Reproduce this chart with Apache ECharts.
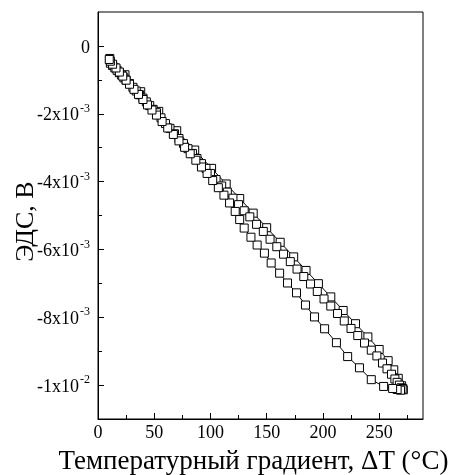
<!DOCTYPE html>
<html><head><meta charset="utf-8">
<script src="https://cdn.jsdelivr.net/npm/echarts@6/dist/echarts.min.js"></script>
<style>html,body{margin:0;padding:0;background:#fff}#c{width:465px;height:475px}</style>
</head><body><div id="c"></div>
<script>
const xTickLabels = [0, 50, 100, 150, 200, 250];
const xMinorTicks = [25, 75, 125, 175, 225, 275];
const yTickLabels = [0, -0.002, -0.004, -0.006, -0.008, -0.01];
const yMinorTicks = [-0.001, -0.003, -0.005, -0.007, -0.009];

const heatingUpper = [[10.5,-0.00037],[24,-0.00085],[38,-0.00135],[54,-0.00193],[70,-0.00250],[86,-0.00307],[101,-0.00361],[114,-0.00407],[126,-0.00450],[138,-0.00493],[150,-0.00536],[162,-0.00579],[174,-0.00622],[185,-0.00662],[196,-0.00701],[207,-0.00740],[218,-0.00780],[229,-0.00819],[240,-0.00858],[250,-0.00895],[258,-0.00928],[263,-0.00955],[267,-0.00980],[270,-0.01002]];

const heatingBand = [[11,-0.00051],[13,-0.00058],[15,-0.00065],[17,-0.00072],[19,-0.00079],[21,-0.00086],[23,-0.00094],[25,-0.00101],[28,-0.00111],[31,-0.00122],[34,-0.00133],[37,-0.00144],[40,-0.00154],[43,-0.00165],[46,-0.00176],[49,-0.00187],[52,-0.00197],[56,-0.00212],[60,-0.00229],[64,-0.00243],[68,-0.00259],[72,-0.00273],[76,-0.00288],[80,-0.00303],[84,-0.00317],[88,-0.00332],[92,-0.00347],[96,-0.00361],[100,-0.00376],[105,-0.00394],[110,-0.00413],[115,-0.00431],[120,-0.00449],[125,-0.00468],[130,-0.00486],[135,-0.00504],[141,-0.00526],[147,-0.00547],[153,-0.00570],[159,-0.00592],[165,-0.00614],[171,-0.00636],[177,-0.00658],[183,-0.00680],[189,-0.00702],[195,-0.00724],[201,-0.00746],[207,-0.00767],[213,-0.00789],[219,-0.00811],[225,-0.00833],[231,-0.00854],[237,-0.00876],[243,-0.00897],[248,-0.00914],[253,-0.00935],[257,-0.00952],[261,-0.00968],[264,-0.00982],[266,-0.00992],[268,-0.01000],[269.5,-0.01008]];

const cooling = [[271,-0.01010],[271.5,-0.01014],[270.5,-0.01012],[269,-0.01015],[266,-0.01013],[262,-0.01010],[254,-0.01004],[243,-0.00984],[232.5,-0.00949],[222,-0.00916],[212,-0.00875],[201.5,-0.00834],[192.5,-0.00799],[184.5,-0.00764],[176.5,-0.00728],[168.5,-0.00699],[161.5,-0.00670],[154,-0.00640],[148,-0.00611],[141.5,-0.00587],[136,-0.00564],[130,-0.00537],[126,-0.00512],[122,-0.00488],[117,-0.00463],[112,-0.00440],[107,-0.00418],[102,-0.00397],[97,-0.00376],[92,-0.00357],[87,-0.00337],[82,-0.00318],[77,-0.00299],[72,-0.00280],[67,-0.00261],[62,-0.00242],[57,-0.00223],[52,-0.00204],[48,-0.00189],[44,-0.00174],[40,-0.00158],[36,-0.00143],[32,-0.00128],[28,-0.00113],[25,-0.00101],[22,-0.00089],[19,-0.00077],[16,-0.00065],[13,-0.00054],[11,-0.00045],[10,-0.00040]];

const FONT = 'Liberation Serif';
function fmtY(v) {
  if (Math.abs(v) < 1e-12) return '{a|0}';
  const e = Math.floor(Math.log10(Math.abs(v)) + 1e-9);
  const m = Math.round(v / Math.pow(10, e));
  return '{a|' + m + 'x10}{s|' + e + '}';
}
function mkSeries(data) {
  return {
    type: 'line', data: data, xAxisIndex: 0, yAxisIndex: 0,
    symbol: 'rect', symbolSize: 8, showSymbol: true, showAllSymbol: true,
    lineStyle: { color: '#000', width: 1 },
    itemStyle: { color: '#fff', borderColor: '#000', borderWidth: 1 },
    silent: true, animation: false
  };
}
const chart = echarts.init(document.getElementById('c'), null, { renderer: 'canvas' });
chart.setOption({
  backgroundColor: '#fff',
  animation: false,
  grid: { left: 98, right: 42, top: 12, bottom: 56, show: true, borderColor: '#000', borderWidth: 1, containLabel: false, outerBoundsMode: 'none' },
  xAxis: [{
    type: 'value', min: 0, max: 289, position: 'bottom',
    axisLine: { onZero: false, lineStyle: { color: '#000', width: 1 } },
    axisTick: { inside: true, length: 6, customValues: xTickLabels, lineStyle: { color: '#000' } },
    axisLabel: { customValues: xTickLabels, color: '#000', fontFamily: FONT, fontSize: 18, margin: 5 },
    splitLine: { show: false },
    name: 'Температурный градиент, ΔT (°C)', nameLocation: 'middle', nameGap: 29, nameMoveOverlap: false,
    nameTextStyle: { color: '#000', fontFamily: FONT, fontSize: 27, padding: [0, 14, 0, 0] }
  }, {
    type: 'value', min: 0, max: 289, position: 'bottom', gridIndex: 0,
    axisLine: { show: false, onZero: false },
    axisTick: { inside: true, length: 4, customValues: xMinorTicks, lineStyle: { color: '#000' } },
    axisLabel: { show: false }, splitLine: { show: false }
  }],
  yAxis: [{
    type: 'value', min: -0.011, max: 0.001, position: 'left',
    axisLine: { show: true, onZero: false, lineStyle: { color: '#000', width: 1 } },
    axisTick: { show: true, inside: true, length: 6, customValues: yTickLabels, lineStyle: { color: '#000' } },
    axisLabel: {
      customValues: yTickLabels, formatter: fmtY, margin: 8,
      rich: {
        a: { color: '#000', fontFamily: FONT, fontSize: 18, lineHeight: 22, verticalAlign: 'bottom' },
        s: { color: '#000', fontFamily: FONT, fontSize: 12, lineHeight: 22, verticalAlign: 'top', padding: [0, 0, 0, 1] }
      }
    },
    splitLine: { show: false },
    name: 'ЭДС, В', nameLocation: 'middle', nameGap: 59, nameMoveOverlap: false,
    nameTextStyle: { color: '#000', fontFamily: FONT, fontSize: 26, padding: [0, 12, 0, 0] }
  }, {
    type: 'value', min: -0.011, max: 0.001, position: 'left', gridIndex: 0,
    axisLine: { show: false, onZero: false },
    axisTick: { show: true, inside: true, length: 4, customValues: yMinorTicks, lineStyle: { color: '#000' } },
    axisLabel: { show: false }, splitLine: { show: false }
  }],
  series: [mkSeries(heatingUpper), mkSeries(heatingBand), mkSeries(cooling)]
});
</script>
</body></html>
